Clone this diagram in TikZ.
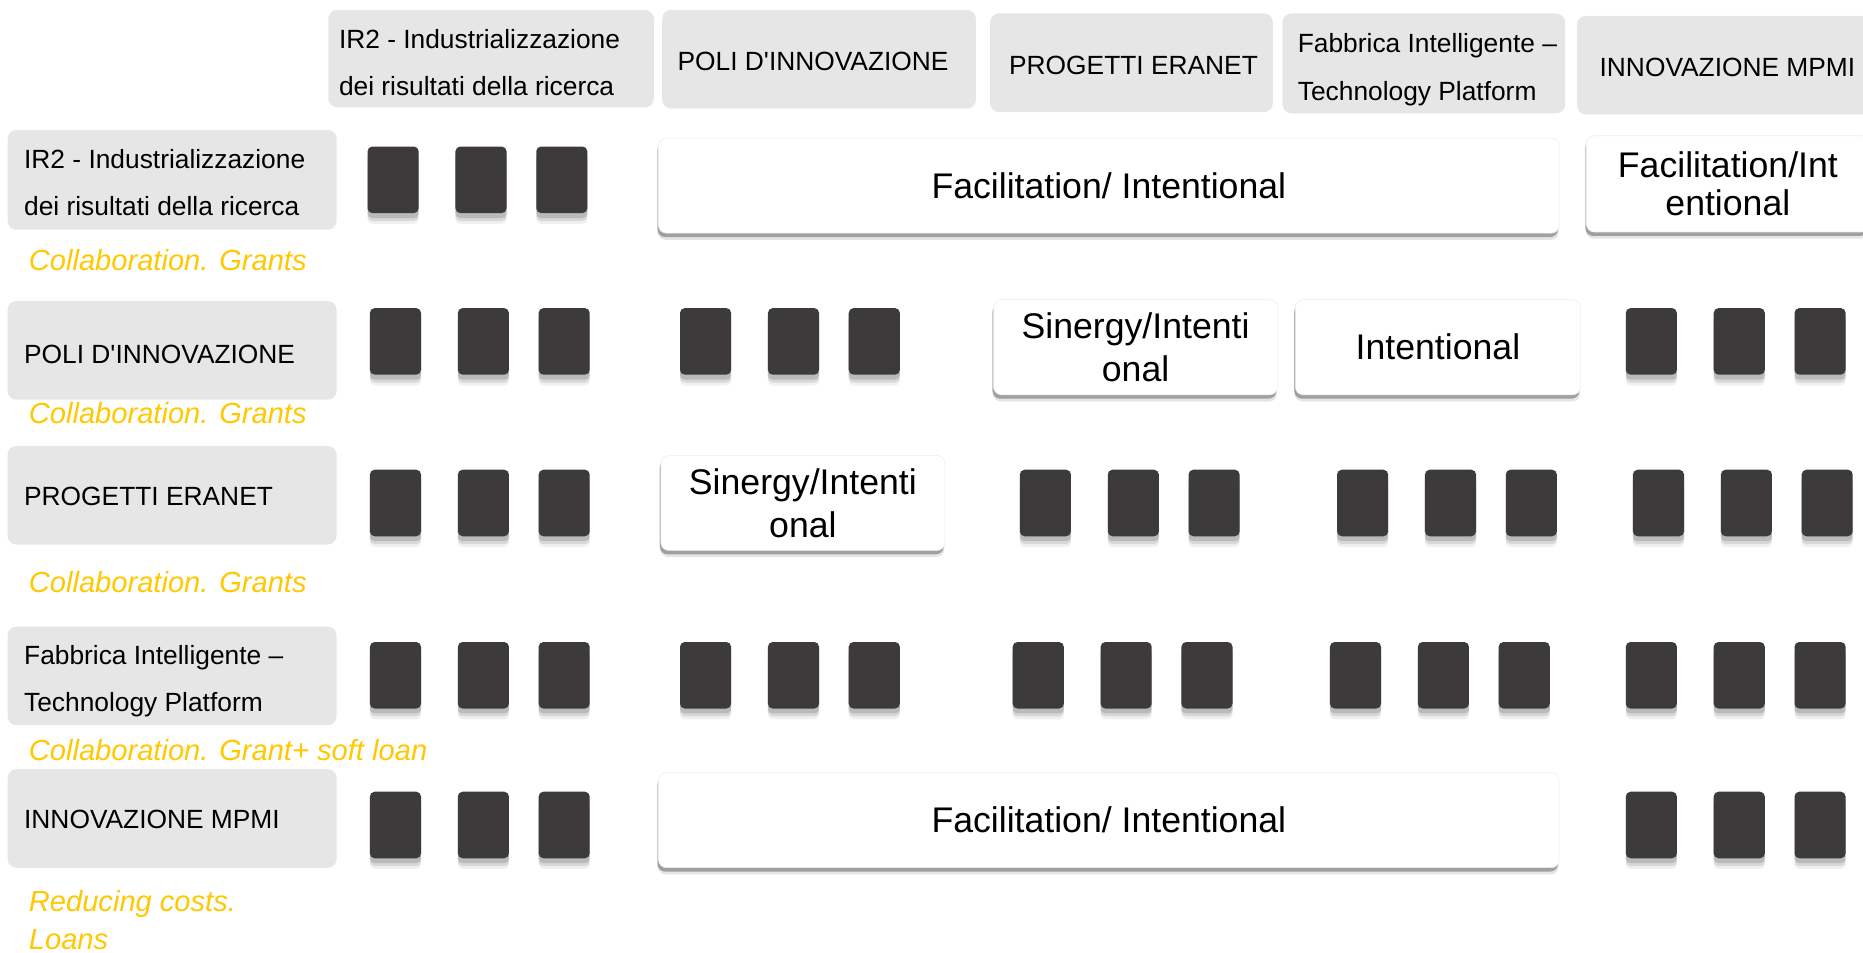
\documentclass[tikz,border=0pt]{standalone}
\usepackage{fontspec}
\setmainfont{Liberation Sans}[Ligatures=TeXOff]
\usetikzlibrary{shadows}
\definecolor{hdrgray}{HTML}{E6E6E6}
\definecolor{darkbar}{HTML}{3C3A3B}
\definecolor{gold}{HTML}{FFC800}
\tikzset{
  graybox/.style={fill=hdrgray, rounded corners=4.5pt, anchor=north west, inner sep=0pt},
  whitebox/.style={fill=white, draw=black!7, line width=0.3pt, rounded corners=4pt, anchor=north west,
    inner sep=0pt, align=center, font=\fontsize{18}{21.6}\selectfont,
    general shadow={shadow yshift=-3.4pt, shadow xshift=-0.3pt, fill=black, opacity=0.10},
    general shadow={shadow yshift=-2pt, shadow xshift=-0.6pt, fill=black, opacity=0.30}},
  dsq/.style={fill=darkbar, rounded corners=2.4pt, anchor=north west, inner sep=0pt,
    minimum width=25.8pt, minimum height=33.6pt,
    general shadow={shadow yshift=-5.5pt, fill=black, opacity=0.06},
    general shadow={shadow yshift=-4pt, fill=black, opacity=0.10},
    general shadow={shadow yshift=-2.5pt, fill=black, opacity=0.14}},
  lbl/.style={anchor=west, inner sep=0pt, align=left, font=\fontsize{13.3}{24}\selectfont},
  yeltext/.style={anchor=west, inner sep=0pt, align=left, text=gold, font=\fontsize{14.7}{19.2}\selectfont\itshape},
}
\newcommand{\gbox}[5]{\node[graybox, minimum width=#4*0.6pt, minimum height=#5*0.6pt] (#1) at (#2,#3) {};}
\newcommand{\wbox}[7][]{\node[whitebox, #1, minimum width=#5*0.6pt, minimum height=#6*0.6pt] (#2) at (#3,#4) {#7};}
\newcommand{\trio}[5]{%
  \node[dsq] (#1-1) at (#2,#5) {};
  \node[dsq] (#1-2) at (#3,#5) {};
  \node[dsq] (#1-3) at (#4,#5) {};}
\begin{document}
\begin{tikzpicture}[x=0.6pt, y=-0.6pt]
\useasboundingbox (0,0) rectangle (1568,802);
% column headers
\gbox{h1}{276}{8}{274}{82}
\gbox{h2}{557}{8}{264}{83}
\gbox{h3}{833}{11}{238}{83}
\gbox{h4}{1079}{11}{238}{84}
\gbox{h5}{1327}{13}{260}{83}
\node[lbl] (h1t) at (285,52.5) {IR2 - Industrializzazione\\dei risultati della ricerca};
\node[lbl] (h2t) at (570,52) {POLI D'INNOVAZIONE};
\node[lbl] (h3t) at (849,55) {PROGETTI ERANET};
\node[lbl] (h4t) at (1092,58.5) {Fabbrica Intelligente –\\Technology Platform};
\node[lbl] (h5t) at (1346,57) {INNOVAZIONE MPMI};
% row labels
\gbox{r1}{6}{109}{277}{84}
\gbox{r2}{6}{253}{277}{83}
\gbox{r3}{6}{375}{277}{83}
\gbox{r4}{6}{527}{277}{83}
\gbox{r5}{6}{647}{277}{83}
\node[lbl] (r1t) at (20,153.5) {IR2 - Industrializzazione\\dei risultati della ricerca};
\node[lbl] (r2t) at (20,298) {POLI D'INNOVAZIONE};
\node[lbl] (r3t) at (20,418) {PROGETTI ERANET};
\node[lbl] (r4t) at (20,573.5) {Fabbrica Intelligente –\\Technology Platform};
\node[lbl] (r5t) at (20,690) {INNOVAZIONE MPMI};
% yellow notes
\node[yeltext] (y1) at (24,219) {Collaboration. Grants};
\node[yeltext] (y2) at (24,348) {Collaboration. Grants};
\node[yeltext] (y3) at (24,490) {Collaboration. Grants};
\node[yeltext] (y4) at (24,631) {Collaboration. Grant+ soft loan};
\node[yeltext] (y5) at (24,774) {Reducing costs.\\Loans};
% white boxes
\wbox{w1}{554}{116}{758}{80}{Facilitation/ Intentional}
\wbox[font=\fontsize{18}{19}\selectfont]{w2}{1335}{114}{238}{81}{Facilitation/Int\\entional}
\wbox{w3}{836}{252}{239}{80}{Sinergy/Intenti\\onal}
\wbox{w4}{1090}{252}{240}{80}{Intentional}
\wbox{w5}{556}{383}{239}{80}{Sinergy/Intenti\\onal}
\wbox{w6}{554}{650}{758}{80}{Facilitation/ Intentional}
% dark squares
\trio{a1}{309}{383}{451}{123}
\trio{b1}{311}{385}{453}{259}
\trio{b2}{572}{646}{714}{259}
\trio{b5}{1368}{1442}{1510}{259}
\trio{c1}{311}{385}{453}{395}
\trio{c3}{858}{932}{1000}{395}
\trio{c4}{1125}{1199}{1267}{395}
\trio{c5}{1374}{1448}{1516}{395}
\trio{d1}{311}{385}{453}{540}
\trio{d2}{572}{646}{714}{540}
\trio{d3}{852}{926}{994}{540}
\trio{d4}{1119}{1193}{1261}{540}
\trio{d5}{1368}{1442}{1510}{540}
\trio{e1}{311}{385}{453}{666}
\trio{e5}{1368}{1442}{1510}{666}
\end{tikzpicture}
\end{document}
